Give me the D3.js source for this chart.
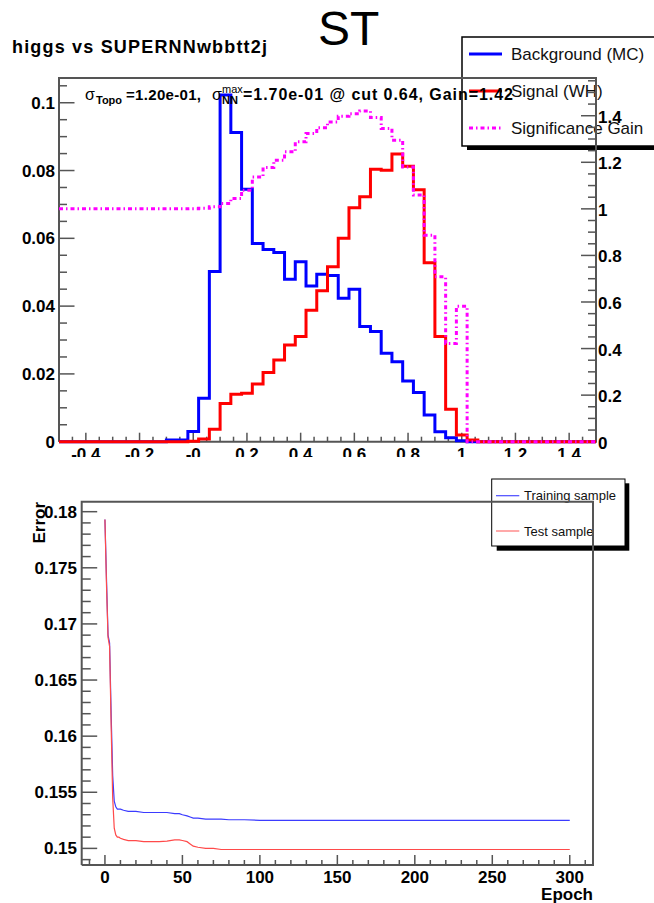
<!DOCTYPE html>
<html>
<head>
<meta charset="utf-8">
<script src="https://cdn.jsdelivr.net/npm/d3@7"></script>
<style>
  body { margin: 0; background: #fff; }
  svg { display: block; font-family: "Liberation Sans", Arial, Helvetica, sans-serif; }
</style>
</head>
<body>
<svg id="canvas" width="654" height="903"></svg>
<script>
// ---------- NN output histograms (50 bins from -0.5 to 1.5) ----------
const binEdges = [-0.5,-0.46,-0.42,-0.38,-0.34,-0.3,-0.26,-0.22,-0.18,-0.14,
  -0.1,-0.06,-0.02,0.02,0.06,0.1,0.14,0.18,0.22,0.26,
  0.3,0.34,0.38,0.42,0.46,0.5,0.54,0.58,0.62,0.66,
  0.7,0.74,0.78,0.82,0.86,0.9,0.94,0.98,1.02,1.06,
  1.1,1.14,1.18,1.22,1.26,1.3,1.34,1.38,1.42,1.46,1.5];

const background = [0,0,0,0,0,0,0,0,0,0,
  0.0005,0.0005,0.003,0.0128,0.0502,0.1023,0.0912,0.0745,0.0585,0.0567,
  0.0558,0.0479,0.0531,0.0459,0.0494,0.0490,0.0423,0.0450,0.0340,0.0325,
  0.0261,0.0236,0.0179,0.0145,0.0079,0.0029,0.0012,0.0003,0,0,
  0,0,0,0,0,0,0,0,0,0];

const signal = [0,0,0,0,0,0,0,0,0,0,
  0,0,0.0001,0.0008,0.0037,0.0113,0.0140,0.0143,0.0170,0.0204,
  0.0241,0.0285,0.0310,0.0388,0.0445,0.0516,0.0600,0.0690,0.0723,0.0804,
  0.0801,0.0849,0.0813,0.0743,0.0528,0.0310,0.0096,0.0020,0.0005,0,
  0,0,0,0,0,0,0,0,0,0];

const gain = [1,1,1,1,1,1,1,1,1,1,
  1,1,1.001,1.003,1.009,1.023,1.045,1.080,1.137,1.178,
  1.209,1.245,1.288,1.324,1.348,1.373,1.398,1.409,1.420,1.392,
  1.345,1.295,1.180,1.059,0.887,0.708,0.422,0.582,0,0,
  0,0,0,0,0,0,0,0,0,0];

const xTicksTop = [-0.4,-0.2,0,0.2,0.4,0.6,0.8,1,1.2,1.4];
const xTickLabelsTop = ["-0.4","-0.2","-0","0.2","0.4","0.6","0.8","1","1.2","1.4"];
const leftTicks = [0,0.02,0.04,0.06,0.08,0.1];
const leftTickLabels = ["0","0.02","0.04","0.06","0.08","0.1"];
const rightTicks = [0,0.2,0.4,0.6,0.8,1,1.2,1.4];
const rightTickLabels = ["0","0.2","0.4","0.6","0.8","1","1.2","1.4"];

// ---------- training history ----------
const epochs = [0,1,2,3,4,5,6,7,8,9,10,12,15,20,25,30,35,40,45,48,50,53,55,57,60,65,70,75,80,90,100,120,150,200,250,300];
const trainErr = [0.1793,0.1740,0.1690,0.1683,0.1620,0.1565,0.1542,0.1537,0.1535,0.1535,0.1535,0.1534,0.1533,0.1533,0.1532,0.1532,0.1532,0.1532,0.1531,0.1531,0.1530,0.1529,0.1528,0.1527,0.1527,0.1526,0.1526,0.1526,0.15255,0.15255,0.1525,0.1525,0.1525,0.1525,0.1525,0.1525];
const testErr = [0.1793,0.1735,0.1688,0.1680,0.1610,0.1545,0.1518,0.1512,0.1510,0.1510,0.1509,0.1508,0.1507,0.1507,0.1506,0.1506,0.1506,0.15065,0.15075,0.15075,0.1507,0.1506,0.1504,0.1502,0.1501,0.1500,0.1500,0.1499,0.1499,0.1499,0.1499,0.1499,0.1499,0.1499,0.1499,0.1499];

const epochTicks = [0,50,100,150,200,250,300];
const errTicks = [0.15,0.155,0.16,0.165,0.17,0.175,0.18];
const errTickLabels = ["0.15","0.155","0.16","0.165","0.17","0.175","0.18"];

const svg = d3.select("#canvas");
const axisColor = "#555";

// ================= upper pad =================
svg.append("defs").append("clipPath").attr("id", "padClip")
  .append("rect").attr("x", 0).attr("y", 0).attr("width", 654).attr("height", 457);
const topPad = svg.append("g").attr("clip-path", "url(#padClip)");

const x = d3.scaleLinear().domain([-0.5, 1.5]).range([59, 596]);
const yL = d3.scaleLinear().domain([0, 0.1073]).range([441.7, 78]);
const yR = d3.scaleLinear().domain([0, 1.562]).range([441.7, 78]);

// titles
topPad.append("text").attr("x", 318).attr("y", 45).attr("font-size", 48).text("ST");
topPad.append("text").attr("x", 12).attr("y", 53).attr("font-size", 18).attr("font-weight", "bold")
  .attr("textLength", 255).attr("lengthAdjust", "spacing").text("higgs vs SUPERNNwbbtt2j");

// legend
const leg = topPad.append("g");
leg.append("rect").attr("x", 467).attr("y", 42).attr("width", 200).attr("height", 108).attr("fill", "#000");
leg.append("rect").attr("x", 462).attr("y", 37).attr("width", 200).attr("height", 109)
  .attr("fill", "#fff").attr("stroke", "#000").attr("stroke-width", 1.5);
const legItems = [
  { label: "Background (MC)", color: "#0000ff", dash: null, y: 54 },
  { label: "Signal (WH)", color: "#ff0000", dash: null, y: 91 },
  { label: "Significance Gain", color: "#ff00ff", dash: "4,3,1.5,3", y: 128 }
];
legItems.forEach(d => {
  leg.append("line").attr("x1", 469).attr("x2", 502).attr("y1", d.y).attr("y2", d.y)
    .attr("stroke", d.color).attr("stroke-width", 3).attr("stroke-dasharray", d.dash);
  leg.append("text").attr("x", 511).attr("y", d.y + 6).attr("font-size", 17).attr("fill", "#111").text(d.label);
});

// frame and axes
const ax = topPad.append("g").attr("stroke", axisColor).attr("fill", "none");
ax.append("path").attr("stroke-width", 2)
  .attr("d", `M${x(-0.5)},${yL(0)}V78H${x(1.5)}V${yL(0)}H${x(-0.5)}`);

d3.range(-0.5, 1.5001, 0.05).forEach(v => {
  const major = xTicksTop.some(t => Math.abs(t - v) < 1e-6);
  ax.append("line").attr("x1", x(v)).attr("x2", x(v)).attr("y1", yL(0)).attr("y2", yL(0) - (major ? 9 : 5))
    .attr("stroke-width", 1.5);
});
d3.range(0, 0.1061, 0.005).forEach(v => {
  const major = leftTicks.some(t => Math.abs(t - v) < 1e-6);
  ax.append("line").attr("x1", x(-0.5)).attr("x2", x(-0.5) + (major ? 15.5 : 8)).attr("y1", yL(v)).attr("y2", yL(v))
    .attr("stroke-width", 1.5);
});
d3.range(0, 1.5601, 0.05).forEach(v => {
  const major = rightTicks.some(t => Math.abs(t - v) < 1e-6);
  ax.append("line").attr("x1", x(1.5)).attr("x2", x(1.5) - (major ? 15 : 8)).attr("y1", yR(v)).attr("y2", yR(v))
    .attr("stroke-width", 1.5);
});

const lab = topPad.append("g").attr("font-size", 17).attr("font-weight", "bold").attr("fill", "#000");
xTicksTop.forEach((t, i) => {
  lab.append("text").attr("x", x(t)).attr("y", 460).attr("text-anchor", "middle").text(xTickLabelsTop[i]);
});
leftTicks.forEach((t, i) => {
  lab.append("text").attr("x", 55).attr("y", yL(t) + 6).attr("text-anchor", "end").text(leftTickLabels[i]);
});
rightTicks.forEach((t, i) => {
  lab.append("text").attr("x", 598).attr("y", yR(t) + 7).attr("text-anchor", "start").text(rightTickLabels[i]);
});

// histograms as step outlines
function stepPoints(values) {
  const pts = values.map((v, i) => [binEdges[i], v]);
  pts.push([binEdges[binEdges.length - 1], values[values.length - 1]]);
  return pts;
}
const stepL = d3.line().x(d => x(d[0])).y(d => yL(d[1])).curve(d3.curveStepAfter);
const stepR = d3.line().x(d => x(d[0])).y(d => yR(d[1])).curve(d3.curveStepAfter);

topPad.append("path").attr("d", stepL(stepPoints(background)))
  .attr("fill", "none").attr("stroke", "#0000ff").attr("stroke-width", 3);
topPad.append("path").attr("d", stepL(stepPoints(signal)))
  .attr("fill", "none").attr("stroke", "#ff0000").attr("stroke-width", 3);
topPad.append("path").attr("d", stepR(stepPoints(gain)))
  .attr("fill", "none").attr("stroke", "#ff00ff").attr("stroke-width", 3).attr("stroke-dasharray", "4,3,1.5,3");

// significance summary line
const stat = topPad.append("g").attr("fill", "#000");
stat.append("text").attr("x", 85).attr("y", 100).attr("font-size", 16).text("σ");
stat.append("text").attr("x", 96).attr("y", 104).attr("font-size", 11).attr("font-weight", "bold").text("Topo");
stat.append("text").attr("x", 126).attr("y", 100).attr("font-size", 15).attr("font-weight", "bold")
  .attr("textLength", 75).attr("lengthAdjust", "spacing").text("=1.20e-01,");
stat.append("text").attr("x", 212).attr("y", 100).attr("font-size", 16).text("σ");
stat.append("text").attr("x", 222).attr("y", 104).attr("font-size", 11).attr("font-weight", "bold").text("NN");
stat.append("text").attr("x", 222).attr("y", 93).attr("font-size", 11).text("max");
stat.append("text").attr("x", 243).attr("y", 100).attr("font-size", 16).attr("font-weight", "bold")
  .attr("textLength", 270).attr("lengthAdjust", "spacing").text("=1.70e-01 @ cut 0.64,  Gain=1.42");

// ================= lower pad =================
const bot = svg.append("g");
const xE = d3.scaleLinear().domain([-15, 315]).range([81.7, 593]);
const yE = d3.scaleLinear().domain([0.14852, 0.18089]).range([865, 501.7]);

// legend
bot.append("rect").attr("x", 496.7).attr("y", 483.3).attr("width", 132.6).attr("height", 67.4).attr("fill", "#000");
bot.append("rect").attr("x", 491.7).attr("y", 479).attr("width", 133.3).attr("height", 67)
  .attr("fill", "#fff").attr("stroke", "#000").attr("stroke-width", 1);
const legB = [
  { label: "Training sample", color: "#4a4aff", y: 495.7 },
  { label: "Test sample", color: "#ff7070", y: 531 }
];
legB.forEach(d => {
  bot.append("line").attr("x1", 496).attr("x2", 519.3).attr("y1", d.y).attr("y2", d.y)
    .attr("stroke", d.color).attr("stroke-width", 1.2);
  bot.append("text").attr("x", 524).attr("y", d.y + 4.5).attr("font-size", 13).attr("fill", "#111").text(d.label);
});

const axB = bot.append("g").attr("stroke", axisColor).attr("fill", "none");
axB.append("path").attr("stroke-width", 2)
  .attr("d", `M${xE(-15)},${yE(0.14852)}V${yE(0.18089)}H${xE(315)}V${yE(0.14852)}H${xE(-15)}`);
d3.range(-10, 311, 10).forEach(v => {
  const major = epochTicks.includes(v);
  axB.append("line").attr("x1", xE(v)).attr("x2", xE(v)).attr("y1", yE(0.14852)).attr("y2", yE(0.14852) - (major ? 10 : 5))
    .attr("stroke-width", 1.5);
});
d3.range(149, 181, 1).forEach(k => {
  const v = k / 1000;
  const major = k % 5 === 0;
  axB.append("line").attr("x1", xE(-15)).attr("x2", xE(-15) + (major ? 15.5 : 9)).attr("y1", yE(v)).attr("y2", yE(v))
    .attr("stroke-width", 1.5);
});

const labB = bot.append("g").attr("font-size", 17).attr("font-weight", "bold").attr("fill", "#000");
epochTicks.forEach(t => {
  labB.append("text").attr("x", xE(t)).attr("y", 883).attr("text-anchor", "middle").text(String(t));
});
errTicks.forEach((t, i) => {
  labB.append("text").attr("x", 77).attr("y", yE(t) + 6).attr("text-anchor", "end").text(errTickLabels[i]);
});
labB.append("text").attr("x", 593).attr("y", 900).attr("text-anchor", "end").text("Epoch");
labB.append("text").attr("transform", "translate(45,502) rotate(-90)").attr("text-anchor", "end").text("Error");

const lineE = (vals) => d3.line().x((d, i) => xE(epochs[i])).y(d => yE(d))(vals);
bot.append("path").attr("d", lineE(trainErr)).attr("fill", "none").attr("stroke", "#3b3bff").attr("stroke-width", 1.2);
bot.append("path").attr("d", lineE(testErr)).attr("fill", "none").attr("stroke", "#ff4a4a").attr("stroke-width", 1.2);
</script>
</body>
</html>
